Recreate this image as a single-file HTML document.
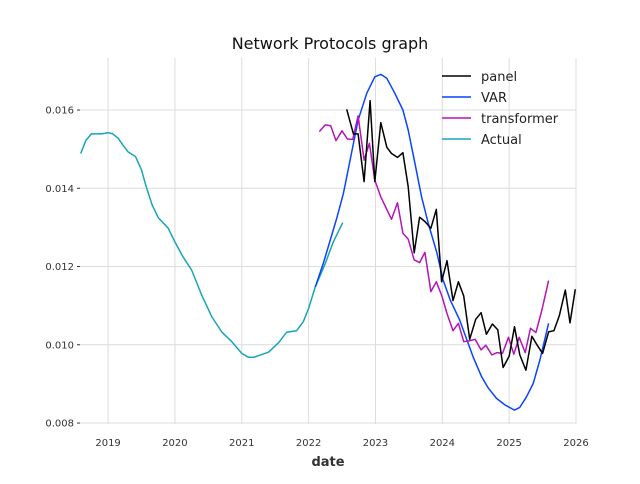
<!DOCTYPE html>
<html><head><meta charset="utf-8"><style>
body{margin:0;background:#fff;font-family:"DejaVu Sans","Liberation Sans",sans-serif}
</style></head><body>
<svg id="chart" width="640" height="480" xmlns="http://www.w3.org/2000/svg" font-family="DejaVu Sans, Liberation Sans, sans-serif"></svg>
<script>
const actualDates=[2018.59,2018.67,2018.75,2018.90,2019.00,2019.07,2019.15,2019.22,2019.30,2019.41,2019.50,2019.57,2019.66,2019.75,2019.90,2020.00,2020.12,2020.25,2020.40,2020.55,2020.70,2020.85,2021.00,2021.10,2021.18,2021.28,2021.40,2021.55,2021.67,2021.82,2021.92,2022.00,2022.10,2022.25,2022.37,2022.51];
const actualValues=[0.01489,0.01523,0.01539,0.01539,0.01542,0.01539,0.01528,0.01511,0.01493,0.01481,0.01447,0.01404,0.01357,0.01325,0.01298,0.01263,0.01225,0.01191,0.01127,0.01072,0.01033,0.01008,0.00978,0.00968,0.00968,0.00974,0.00981,0.01005,0.01032,0.01036,0.01059,0.01093,0.01148,0.01208,0.01263,0.01312];
const varDates=[2022.10,2022.22,2022.42,2022.52,2022.62,2022.74,2022.87,2022.99,2023.08,2023.17,2023.29,2023.41,2023.49,2023.59,2023.69,2023.79,2023.92,2024.01,2024.12,2024.26,2024.36,2024.46,2024.59,2024.69,2024.81,2024.94,2025.08,2025.16,2025.26,2025.36,2025.46,2025.59];
const varValues=[0.01148,0.01208,0.01323,0.01387,0.01472,0.01574,0.01643,0.01685,0.01691,0.01681,0.01643,0.01600,0.01549,0.01464,0.01378,0.01310,0.01234,0.01166,0.01114,0.01063,0.01016,0.00969,0.00918,0.00889,0.00863,0.00846,0.00833,0.00840,0.00867,0.00901,0.00961,0.01055];
const panelDates=[2022.57,2022.67,2022.74,2022.83,2022.92,2022.99,2023.08,2023.17,2023.24,2023.33,2023.41,2023.49,2023.58,2023.66,2023.74,2023.83,2023.91,2023.99,2024.07,2024.16,2024.24,2024.32,2024.41,2024.50,2024.58,2024.66,2024.75,2024.83,2024.91,2025.00,2025.08,2025.16,2025.25,2025.34,2025.42,2025.50,2025.59,2025.67,2025.75,2025.84,2025.91,2025.99];
const panelValues=[0.01602,0.01539,0.01539,0.01417,0.01624,0.01417,0.01568,0.01505,0.01489,0.01479,0.01491,0.01404,0.01235,0.01326,0.01315,0.01298,0.01346,0.01161,0.01215,0.01113,0.01161,0.01125,0.01014,0.01065,0.01082,0.01027,0.01053,0.01038,0.00942,0.00971,0.01046,0.00974,0.00935,0.01022,0.00999,0.00978,0.01033,0.01036,0.01074,0.01140,0.01056,0.01142];
const transDates=[2022.16,2022.25,2022.33,2022.41,2022.50,2022.58,2022.66,2022.74,2022.83,2022.91,2022.99,2023.08,2023.16,2023.24,2023.33,2023.41,2023.49,2023.58,2023.66,2023.74,2023.83,2023.91,2023.99,2024.07,2024.16,2024.24,2024.32,2024.40,2024.49,2024.58,2024.65,2024.74,2024.82,2024.90,2024.99,2025.07,2025.15,2025.24,2025.32,2025.40,2025.49,2025.59];
const transValues=[0.01545,0.01562,0.01560,0.01522,0.01547,0.01526,0.01525,0.01585,0.01472,0.01515,0.01421,0.01378,0.01349,0.01321,0.01363,0.01285,0.01270,0.01217,0.01210,0.01236,0.01136,0.01161,0.01127,0.01080,0.01036,0.01055,0.01008,0.01010,0.01014,0.00987,0.00999,0.00974,0.00980,0.00978,0.01019,0.00976,0.01019,0.00980,0.01042,0.01031,0.01089,0.01164];
const xTicks=[2019,2020,2021,2022,2023,2024,2025,2026];
const yTicks=[0.008,0.010,0.012,0.014,0.016];
const yTickLabels=["0.008","0.010","0.012","0.014","0.016"];

const svg=document.getElementById('chart');
const NS='http://www.w3.org/2000/svg';
const X0=80,X1=576,Y0=424,Y1=58;
const xMin=2018.58,xMax=2026,yMin=0.007975,yMax=0.01733;
const xs=v=>X0+(v-xMin)/(xMax-xMin)*(X1-X0);
const ys=v=>Y0-(v-yMin)/(yMax-yMin)*(Y0-Y1);
function mk(tag,attrs,text){const e=document.createElementNS(NS,tag);for(const k in attrs)e.setAttribute(k,attrs[k]);if(text!==undefined)e.textContent=text;svg.appendChild(e);return e;}

xTicks.forEach(t=>{
  const g=mk('line',{x1:xs(t),x2:xs(t),y1:Y1,y2:Y0,stroke:'#dcdcdc','stroke-width':1});
  
  
  const l=mk('text',{x:xs(t),y:446,'text-anchor':'middle','font-size':10,fill:'#333'},String(t));
  
  
});
yTicks.forEach((t,i)=>{
  const g=mk('line',{x1:X0,x2:X1,y1:ys(t),y2:ys(t),stroke:'#dcdcdc','stroke-width':1});
  
  
  const tk=mk('line',{x1:X0-3,x2:X0,y1:ys(t),y2:ys(t),stroke:'#333','stroke-width':1});
  
  
  const l=mk('text',{x:X0-6,y:ys(t)+3.5,'text-anchor':'end','font-size':10,fill:'#333'},yTickLabels[i]);
  
  
});
function line(d,v,color,name){
  const p=mk('polyline',{points:d.map((x,i)=>xs(x).toFixed(1)+','+ys(v[i]).toFixed(1)).join(' '),fill:'none',stroke:color,'stroke-width':1.5,'stroke-linejoin':'round'});
  
  
}
line(actualDates,actualValues,'#17a5b8','actual-line');
line(varDates,varValues,'#0a44ff','var-line');
line(transDates,transValues,'#b414b8','transformer-line');
line(panelDates,panelValues,'#000000','panel-line');

const t=mk('text',{x:330,y:49,'text-anchor':'middle','font-size':16,fill:'#111'},'Network Protocols graph');


const xl=mk('text',{x:328,y:466,'text-anchor':'middle','font-size':13,'font-weight':'bold',fill:'#333'},'date');



const legNames=['panel','VAR','transformer','Actual'];
const legColors=['#000000','#0a44ff','#b414b8','#17a5b8'];
legNames.forEach((n,i)=>{
  const y=76+i*21;
  const ln=mk('line',{x1:442,x2:471,y1:y,y2:y,stroke:legColors[i],'stroke-width':1.5});
  
  
  const tx=mk('text',{x:481,y:y+5,'font-size':13,fill:'#222'},n);
  
  
});
</script>
</body></html>
